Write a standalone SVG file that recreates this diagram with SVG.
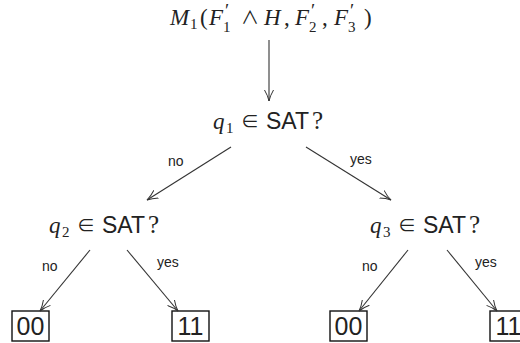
<svg xmlns="http://www.w3.org/2000/svg" width="520" height="343" viewBox="0 0 520 343">
<style>
.m{font-family:"Liberation Serif","DejaVu Serif",serif;font-size:23px;fill:#222}
.i{font-style:italic}
.op{font-family:"Noto Sans CJK JP","DejaVu Serif",serif;font-size:18px;fill:#222}
.s{font-family:"Liberation Sans",Arial,sans-serif;font-size:23px;fill:#222}
.q{font-family:"Liberation Serif","DejaVu Serif",serif;font-size:25px;fill:#222}
.sub{font-family:"Liberation Serif","DejaVu Serif",serif;font-size:15px;fill:#222}
.pr{font-family:"Liberation Serif","DejaVu Serif",serif;font-size:19px;fill:#222}
.lab{font-family:"Liberation Sans",Arial,sans-serif;font-size:14px;fill:#222}
.edge{stroke:#333;stroke-width:1.1;fill:none;marker-end:url(#ah)}
.box{fill:#fff;stroke:#111;stroke-width:1.4}
.bt{font-family:"Liberation Sans",Arial,sans-serif;font-size:25px;fill:#222;text-anchor:middle}
</style>
<defs>
<marker id="ah" viewBox="0 0 12 10" refX="11" refY="5" markerWidth="12" markerHeight="10" markerUnits="userSpaceOnUse" orient="auto">
<path d="M0,0.5 Q6,4 11,5 Q6,6 0,9.5" fill="none" stroke="#333" stroke-width="1"/>
</marker>
</defs>
<g id="root">
<text class="m i" x="170" y="25">M</text>
<text class="sub" x="190" y="29">1</text>
<text class="m" x="200" y="25">(</text>
<text class="m i" x="209" y="25">F</text>
<text class="pr" x="225" y="17">′</text>
<text class="sub" x="223" y="32">1</text>
<text class="op" x="241" y="24">∧</text>
<text class="m i" x="264" y="25">H</text>
<text class="m" x="284" y="25">,</text>
<text class="m i" x="295" y="25">F</text>
<text class="pr" x="311" y="17">′</text>
<text class="sub" x="309" y="32">2</text>
<text class="m" x="322" y="25">,</text>
<text class="m i" x="334" y="25">F</text>
<text class="pr" x="350" y="17">′</text>
<text class="sub" x="348" y="32">3</text>
<text class="m" x="364" y="25">)</text>
</g>
<g id="q1">
<text class="m i" x="213" y="129">q</text>
<text class="sub" x="226" y="133">1</text>
<text class="op" x="241" y="128">∈</text>
<text class="s" x="266" y="129">SAT</text>
<text class="q" x="312" y="129">?</text>
</g>
<g id="q2">
<text class="m i" x="49" y="233">q</text>
<text class="sub" x="62" y="237">2</text>
<text class="op" x="77" y="232">∈</text>
<text class="s" x="102" y="233">SAT</text>
<text class="q" x="148" y="233">?</text>
</g>
<g id="q3">
<text class="m i" x="370" y="233">q</text>
<text class="sub" x="383" y="237">3</text>
<text class="op" x="398" y="232">∈</text>
<text class="s" x="423" y="233">SAT</text>
<text class="q" x="469" y="233">?</text>
</g>
<g id="leaf1"><rect class="box" x="12" y="311" width="37" height="30"/><text class="bt" x="30.5" y="335">00</text></g>
<g id="leaf2"><rect class="box" x="172" y="311" width="37" height="30"/><text class="bt" x="190.5" y="335">11</text></g>
<g id="leaf3"><rect class="box" x="330" y="311" width="37" height="30"/><text class="bt" x="348.5" y="335">00</text></g>
<g id="leaf4"><rect class="box" x="490" y="311" width="37" height="30"/><text class="bt" x="508.5" y="335">11</text></g>
<g id="connectors">
<line class="edge" x1="269" y1="40" x2="269" y2="101"/>
<line class="edge" x1="231" y1="147" x2="147" y2="200"/>
<line class="edge" x1="306" y1="147" x2="391" y2="200"/>
<line class="edge" x1="90" y1="250" x2="40" y2="311"/>
<line class="edge" x1="127" y1="250" x2="178" y2="311"/>
<line class="edge" x1="408" y1="250" x2="359" y2="311"/>
<line class="edge" x1="447" y1="250" x2="497" y2="311"/>
<text class="lab" x="168" y="166">no</text>
<text class="lab" x="350" y="164">yes</text>
<text class="lab" x="42" y="271">no</text>
<text class="lab" x="157" y="267">yes</text>
<text class="lab" x="362" y="271">no</text>
<text class="lab" x="475" y="267">yes</text>
</g>
</svg>
